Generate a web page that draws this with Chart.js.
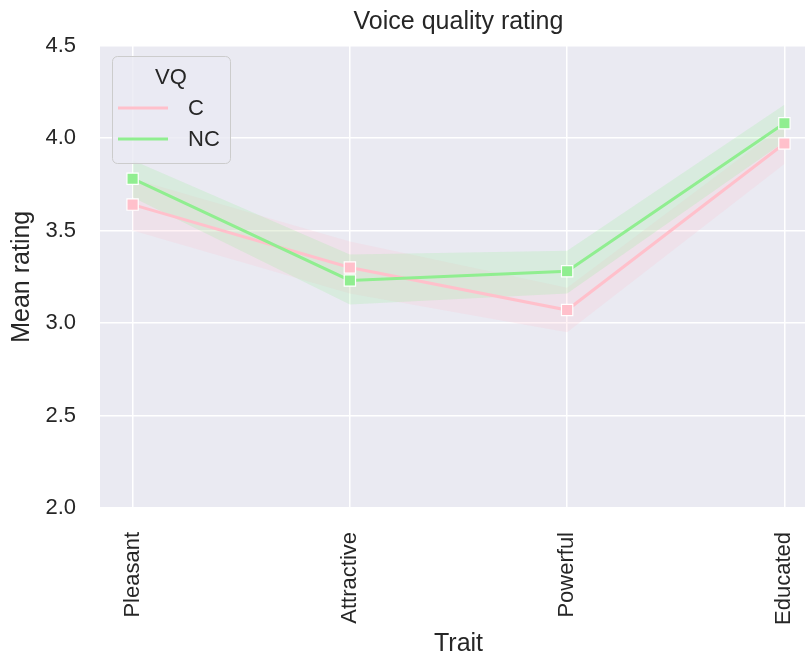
<!DOCTYPE html>
<html>
<head>
<meta charset="utf-8">
<script src="https://cdn.jsdelivr.net/npm/chart.js@4"></script>
<style>
  html, body { margin: 0; padding: 0; background: #fff; overflow: hidden; }
  #wrap { width: 805px; height: 657px; overflow: hidden; }
</style>
</head>
<body>
<div id="wrap"><canvas id="chart" width="817" height="657"></canvas></div>
<script>
var traits = ['Pleasant', 'Attractive', 'Powerful', 'Educated'];
var seriesNames = ['C', 'NC'];
var cMean = [3.64, 3.30, 3.07, 3.97];
var cLow = [3.50, 3.16, 2.95, 3.86];
var cHigh = [3.78, 3.44, 3.19, 4.07];
var ncMean = [3.78, 3.23, 3.28, 4.08];
var ncLow = [3.68, 3.10, 3.16, 3.98];
var ncHigh = [3.88, 3.37, 3.39, 4.18];
var yTicks = [2.0, 2.5, 3.0, 3.5, 4.0, 4.5];

var FONT = "'Liberation Sans', Arial, sans-serif";
var TEXT = '#262626';
var PINK = '#ffc0cb';
var GREEN = '#90ee90';

function pts(arr) {
  return arr.map(function (v, i) { return { x: i, y: v }; });
}

function band(arr, fill, color) {
  return {
    data: pts(arr), borderWidth: 0, borderColor: 'transparent',
    pointRadius: 0, fill: fill, backgroundColor: color
  };
}

function meanLine(arr, color) {
  return {
    data: pts(arr), borderColor: color, borderWidth: 3, fill: false,
    pointStyle: 'rect', pointRadius: 8, pointBackgroundColor: color,
    pointBorderColor: '#ffffff', pointBorderWidth: 1.2
  };
}

var bgPlugin = {
  id: 'bg',
  beforeDraw: function (chart) {
    var a = chart.chartArea, ctx = chart.ctx;
    ctx.save();
    ctx.fillStyle = '#eaeaf2';
    ctx.fillRect(a.left, a.top, a.right - a.left, a.bottom - a.top);
    ctx.restore();
  }
};

var legendPlugin = {
  id: 'vqLegend',
  afterDraw: function (chart) {
    var ctx = chart.ctx;
    ctx.save();
    ctx.beginPath();
    ctx.roundRect(112.5, 56.5, 118, 107, 5);
    ctx.fillStyle = 'rgba(234,234,242,0.8)';
    ctx.fill();
    ctx.strokeStyle = '#cccccc';
    ctx.lineWidth = 1;
    ctx.stroke();

    ctx.fillStyle = TEXT;
    ctx.font = '22px ' + FONT;
    ctx.textBaseline = 'middle';
    ctx.textAlign = 'center';
    ctx.fillText('VQ', 171, 78);

    var colors = [PINK, GREEN];
    var ys = [108, 139];
    ctx.textAlign = 'left';
    seriesNames.forEach(function (name, i) {
      ctx.strokeStyle = colors[i];
      ctx.lineWidth = 3;
      ctx.beginPath();
      ctx.moveTo(118, ys[i]);
      ctx.lineTo(168, ys[i]);
      ctx.stroke();
      ctx.fillStyle = TEXT;
      ctx.fillText(name, 188, ys[i] + 1);
    });
    ctx.restore();
  }
};

new Chart(document.getElementById('chart'), {
  type: 'line',
  data: {
    datasets: [
      meanLine(ncMean, GREEN),
      meanLine(cMean, PINK),
      band(ncLow, false, 'transparent'),
      band(ncHigh, '-1', 'rgba(144,238,144,0.2)'),
      band(cLow, false, 'transparent'),
      band(cHigh, '-1', 'rgba(255,192,203,0.2)')
    ]
  },
  options: {
    responsive: false,
    animation: false,
    layout: { padding: 0, autoPadding: false },
    plugins: {
      legend: { display: false },
      tooltip: { enabled: false },
      filler: { drawTime: 'beforeDatasetsDraw' },
      title: {
        display: true,
        fullSize: false,
        text: 'Voice quality rating',
        color: TEXT,
        font: { family: FONT, size: 25, weight: 'normal', lineHeight: 1 },
        padding: { top: 10, bottom: 10.5 }
      }
    },
    scales: {
      x: {
        type: 'linear',
        min: -0.15,
        max: 3.15,
        afterBuildTicks: function (scale) {
          scale.ticks = traits.map(function (t, i) { return { value: i }; });
        },
        afterFit: function (scale) {
          scale.height = 149;
          scale.paddingLeft = 0;
          scale.paddingRight = 0;
        },
        border: { display: false },
        grid: { color: '#ffffff', lineWidth: 1.5, drawTicks: false },
        ticks: {
          autoSkip: false,
          minRotation: 90,
          maxRotation: 90,
          padding: 24,
          color: TEXT,
          font: { family: FONT, size: 22 },
          callback: function (v) { return traits[v]; }
        },
        title: {
          display: true,
          text: 'Trait',
          color: TEXT,
          font: { family: FONT, size: 25, lineHeight: 1 },
          padding: { top: 0, bottom: 0 }
        }
      },
      y: {
        min: 2.0,
        max: 4.5,
        afterBuildTicks: function (scale) {
          scale.ticks = yTicks.map(function (v) { return { value: v }; });
        },
        afterFit: function (scale) { scale.width = 100; },
        border: { display: false },
        grid: { color: '#ffffff', lineWidth: 1.5, drawTicks: false },
        ticks: {
          padding: 24,
          color: TEXT,
          font: { family: FONT, size: 22 },
          callback: function (v) { return v.toFixed(1); }
        },
        title: {
          display: true,
          text: 'Mean rating',
          color: TEXT,
          font: { family: FONT, size: 25, lineHeight: 1 },
          padding: { top: 10, bottom: 0 }
        }
      }
    }
  },
  plugins: [bgPlugin, legendPlugin]
});
</script>
</body>
</html>
